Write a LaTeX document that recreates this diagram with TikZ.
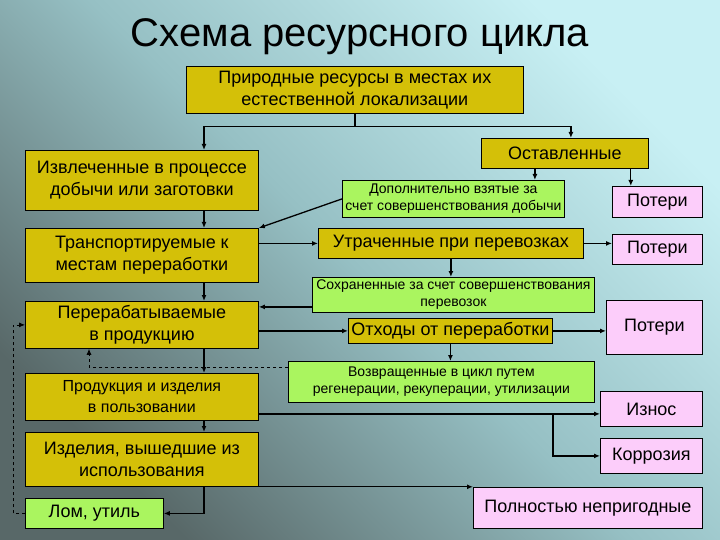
\documentclass[tikz,border=0pt]{standalone}
\usepackage{fontspec}
\setmainfont{Liberation Sans}
\usetikzlibrary{arrows.meta, calc}

\definecolor{boxyel}{RGB}{212,192,8}
\definecolor{boxgrn}{RGB}{170,245,95}
\definecolor{boxpnk}{RGB}{252,205,250}
\definecolor{bglight}{RGB}{200,240,244}
\definecolor{bgmid}{RGB}{150,192,196}
\definecolor{bgdark}{RGB}{88,104,104}

\begin{document}
\begin{tikzpicture}[
    x=1pt, y=-1pt,
    font=\fontsize{18}{22}\selectfont,
    every node/.style={align=center},
    box/.style  ={draw, line width=0.8pt, anchor=north west, inner sep=1pt},
    yel/.style  ={box, fill=boxyel},
    grn/.style  ={box, fill=boxgrn},
    pnk/.style  ={box, fill=boxpnk},
    small/.style={font=\fontsize{14}{17}\selectfont},
    arr/.style  ={-{Latex[length=6pt,width=5pt]}, line width=1.3pt},
    back/.style ={-{Latex[length=6pt,width=5pt]}, dashed, line width=0.8pt}
]
% background
\shade[top color=bglight, bottom color=bgdark, middle color=bgmid, shading angle=-45]
    (0,0) rectangle (720,540);
\useasboundingbox (0,0) rectangle (720,540);

\node[font=\fontsize{40}{44}\selectfont] (title) at (360,37) {Схема ресурсного цикла};

% left column
\node[yel, minimum width=337, minimum height=47] (nat)   at (186,66)  {Природные ресурсы в местах их\\естественной локализации};
\node[yel, minimum width=233, minimum height=60] (izv)   at (25,150)  {Извлеченные в процессе\\добычи или заготовки};
\node[yel, minimum width=233, minimum height=54] (trans) at (25,228)  {Транспортируемые к\\местам переработки};
\node[yel, minimum width=233, minimum height=47] (pere)  at (25,301)  {Перерабатываемые\\в продукцию};
\node[yel, font=\fontsize{16}{21}\selectfont, minimum width=233, minimum height=47] (prod) at (25,373) {Продукция и изделия\\в пользовании};
\node[yel, minimum width=233, minimum height=54] (izd)   at (25,432)  {Изделия, вышедшие из\\использования};
\node[grn, minimum width=138, minimum height=30] (lom)   at (25,498)  {Лом, утиль};

% right part
\node[yel, minimum width=167, minimum height=30] (ost)   at (481,138) {Оставленные};
\node[grn, small, minimum width=222, minimum height=37] (dop) at (342,180) {Дополнительно взятые за\\счет совершенствования добычи};
\node[pnk, minimum width=90, minimum height=31]  (pot1)  at (612,186) {Потери};
\node[yel, minimum width=265, minimum height=30] (utr)   at (318,228) {Утраченные при перевозках};
\node[pnk, minimum width=90, minimum height=30]  (pot2)  at (612,234) {Потери};
\node[grn, small, minimum width=282, minimum height=35] (soh) at (312,277) {Сохраненные за счет совершенствования\\перевозок};
\node[yel, minimum width=204, minimum height=25] (otx)   at (348,318) {Отходы от переработки};
\node[pnk, minimum width=96, minimum height=54]  (pot3)  at (606,300) {Потери};
\node[grn, small, minimum width=306, minimum height=41] (voz) at (288,361) {Возвращенные в цикл путем\\регенерации, рекуперации, утилизации};
\node[pnk, minimum width=102, minimum height=35] (izn)   at (600,391) {Износ};
\node[pnk, minimum width=102, minimum height=35] (kor)   at (600,438) {Коррозия};
\node[pnk, minimum width=229, minimum height=41] (pol)   at (473,487) {Полностью непригодные};

\coordinate (lx) at (204,0);

% split from the top box
\draw[line width=1.3pt] (nat.south) -- ++(0,13) coordinate (split);
\draw[arr] (split) -| (lx |- izv.north);
\draw[arr] (split) -| ([xshift=6pt]ost.north);

% left chain
\draw[arr] (lx |- izv.south)  -- (lx |- trans.north);
\draw[arr] (lx |- trans.south) -- (lx |- pere.north);
\draw[arr] (lx |- pere.south) -- (lx |- prod.north);
\draw[arr] (lx |- prod.south) -- (lx |- izd.north);
\coordinate (iz) at (lx |- izd.south);
\draw[arr] (iz) |- (lom.east);
\draw[arr] (iz) -- (iz -| pol.west);

% right chain
\draw[arr] ([xshift=-30pt]ost.south) -- ([xshift=-30pt]ost.south |- dop.north);
\draw[arr] ([xshift=-18pt]ost.south east) -- ([xshift=-18pt]ost.south east |- pot1.north);
\draw[arr] (dop.west) -- (trans.north east);
\draw[arr] (utr.west -| trans.east) -- (utr.west);
\draw[arr] (utr.east) -- (utr.east -| pot2.west);
\draw[arr] (utr.south) -- (utr.south |- soh.north);
\draw[arr] ([yshift=-12pt]soh.west) -- ([yshift=-12pt]soh.west -| pere.east);
\draw[arr] (otx.west -| pere.east) -- (otx.west);
\draw[arr] (otx.east) -- (otx.east -| pot3.west);
\draw[arr] (otx.south) -- (otx.south |- voz.north);

% wear and corrosion
\coordinate (pr) at ([yshift=-17pt]prod.east);
\draw[arr] (pr) -- (pr -| izn.west);
\coordinate (br) at (pr -| 553,0);
\draw[arr] (br) |- (kor.west);

% returns (dashed)
\draw[back] ([yshift=15pt]voz.west) -| ([xshift=64pt]pere.south west);
\draw[back] (lom.west) -- ++(-12,0) |- (pere.west);
\end{tikzpicture}
\end{document}
